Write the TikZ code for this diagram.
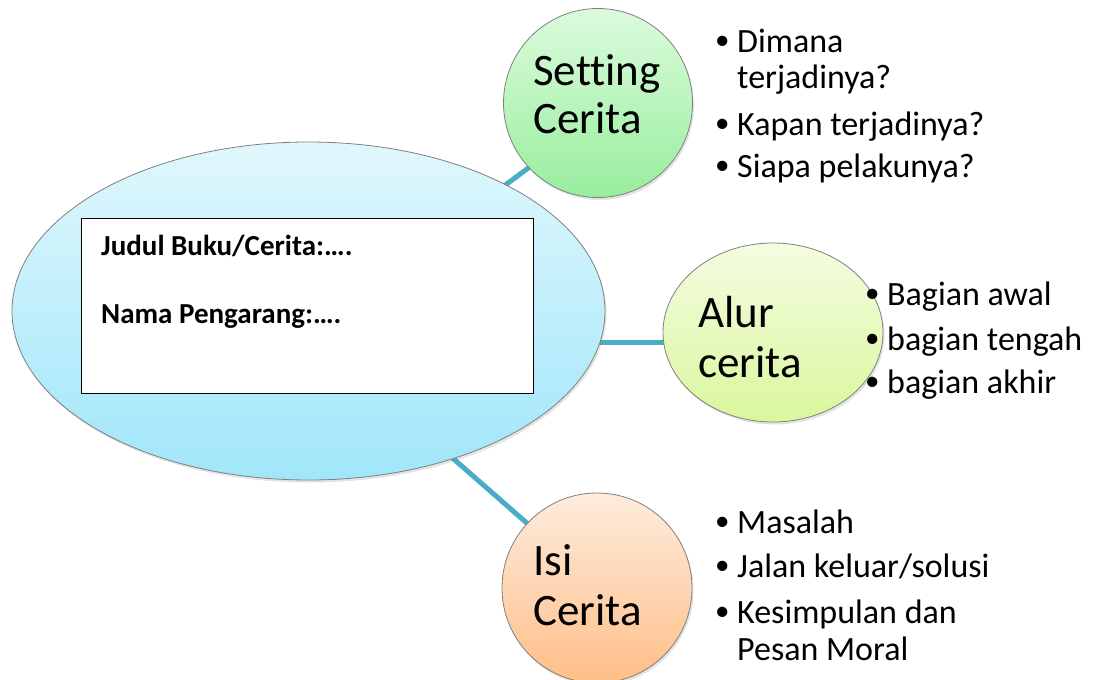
\documentclass[tikz,border=0pt]{standalone}
\usepackage{fontspec}
\setmainfont{Carlito}[Ligatures=NoCommon]
\usetikzlibrary{shapes.geometric,shadows}
\definecolor{conncol}{HTML}{4BACC6}
\definecolor{edgecol}{HTML}{808080}
\tikzset{
  conn/.style={draw=conncol,line width=5pt},
  bubble/.style={draw=edgecol,line width=0.8pt,inner sep=0pt,
     drop shadow={opacity=0.22,shadow xshift=1.5pt,shadow yshift=-2.5pt}},
  big/.style={font=\fontsize{45}{54}\selectfont,anchor=base west,inner sep=0pt},
  item/.style={font=\fontsize{34}{40}\selectfont,anchor=base west,inner sep=0pt},
  boxtxt/.style={font=\bfseries\fontsize{29}{34}\selectfont,anchor=base west,inner sep=0pt},
}
\newcommand{\bul}{\makebox[22pt][l]{\raisebox{2.5pt}{\fontsize{29}{29}\selectfont•}}}
\begin{document}
\begin{tikzpicture}[x=1pt,y=-1pt]
\useasboundingbox (0,0) rectangle (1093,680);
% connector end points
\coordinate (sa) at (485,200);
\coordinate (sb) at (550,152);
\coordinate (aa) at (590,342);
\coordinate (ab) at (680,342);
\coordinate (ia) at (440,447);
\coordinate (ib) at (545,539);
\draw[conn] (sa) -- (sb);
\draw[conn] (aa) -- (ab);
\draw[conn] (ia) -- (ib);
% shapes
\node[bubble,ellipse,minimum width=593pt,minimum height=338pt,
  top color={rgb,255:red,224;green,247;blue,252},bottom color={rgb,255:red,160;green,230;blue,250}] (ell) at (308.5,311) {};
\node[draw=black,line width=0.8pt,fill=white,minimum width=452pt,minimum height=175pt,inner sep=0pt] (box) at (307,305.5) {};
\node[bubble,circle,minimum size=189pt,
  top color={rgb,255:red,220;green,251;blue,221},bottom color={rgb,255:red,152;green,238;blue,157}] (set) at (598,103) {};
\node[bubble,ellipse,minimum width=220pt,minimum height=179pt,
  top color={rgb,255:red,244;green,252;blue,226},bottom color={rgb,255:red,218;green,247;blue,156}] (alur) at (773,332.5) {};
\node[bubble,circle,minimum size=190pt,
  top color={rgb,255:red,254;green,236;blue,222},bottom color={rgb,255:red,255;green,190;blue,135}] (isi) at (597,588) {};
% box text
\node[boxtxt] (t1) at (101,255) {Judul Buku/Cerita:….};
\node[boxtxt] (t2) at (101,323) {Nama Pengarang:….};
% circle labels
\node[big] (s1) at (533,85) {Setting};
\node[big] (s2) at (533,133) {Cerita};
\node[big] (a1) at (698,327) {Alur};
\node[big] (a2) at (698,377) {cerita};
\node[big] (i1) at (533,575) {Isi};
\node[big] (i2) at (533,625) {Cerita};
% setting list
\node[item] (sl1) at (715,52) {\bul Dimana};
\node[item] (sl2) at (737,88) {terjadinya?};
\node[item] (sl3) at (715,135) {\bul Kapan terjadinya?};
\node[item] (sl4) at (715,177) {\bul Siapa pelakunya?};
% alur list
\node[item] (al1) at (865,305) {\bul Bagian awal};
\node[item] (al2) at (865,350) {\bul bagian tengah};
\node[item] (al3) at (865,393) {\bul bagian akhir};
% isi list
\node[item] (il1) at (715,533) {\bul Masalah};
\node[item] (il2) at (715,577) {\bul Jalan keluar/solusi};
\node[item] (il3) at (715,623) {\bul Kesimpulan dan};
\node[item] (il4) at (737,660) {Pesan Moral};
\end{tikzpicture}
\end{document}
